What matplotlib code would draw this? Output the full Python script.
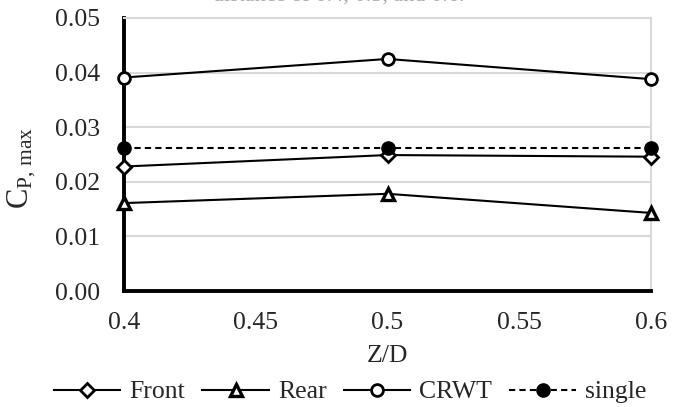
import matplotlib
matplotlib.use("Agg")
import matplotlib.pyplot as plt

zd = [0.4, 0.5, 0.6]
front = [0.0228, 0.0249, 0.0246]
rear = [0.0161, 0.0178, 0.0143]
crwt = [0.0391, 0.0425, 0.0388]
single = [0.02625, 0.02625, 0.02625]

plt.rcParams['font.family'] = ['Liberation Serif', 'DejaVu Serif']
plt.rcParams['mathtext.fontset'] = 'custom'
plt.rcParams['mathtext.rm'] = 'Liberation Serif'
plt.rcParams['mathtext.it'] = 'Liberation Serif:italic'

W, H = 684, 407
fig = plt.figure(figsize=(6.84, 4.07), dpi=100)
ax = fig.add_axes([124 / W, 1 - 291 / H, (651 - 124) / W, (291 - 18) / H])

lw = 1.5
ax.plot(zd, front, color='black', lw=lw, marker='D', ms=7.5, mfc='white', mew=2.0, label='Front', clip_on=False, zorder=3)
ax.plot(zd, rear, color='black', lw=lw, marker='^', ms=9, mfc='white', mew=2.4, label='Rear', clip_on=False, zorder=3)
ax.plot(zd, crwt, color='black', lw=lw, marker='o', ms=8.5, mfc='white', mew=2.0, label='CRWT', clip_on=False, zorder=3)
ax.plot(zd, single, color='black', lw=lw, ls=(0, (3, 2)), marker='o', ms=9.5, mfc='black', label='single', clip_on=False, zorder=3)

ax.set_xlim(0.4, 0.6)
ax.set_ylim(0, 0.05)
ax.set_xticks([0.4, 0.45, 0.5, 0.55, 0.6])
ax.set_xticklabels(['0.4', '0.45', '0.5', '0.55', '0.6'])
ax.set_yticks([0, 0.01, 0.02, 0.03, 0.04, 0.05])
ax.set_yticklabels(['0.00', '0.01', '0.02', '0.03', '0.04', '0.05'])
ax.tick_params(axis='y', length=0, labelsize=18.5, colors='#262626', pad=17)
ax.tick_params(axis='x', length=0, labelsize=18.5, colors='#262626', pad=15)
ax.grid(axis='y', color='#d9d9d9', lw=1.5, zorder=0)
ax.set_axisbelow(True)
for s in ['top', 'right']:
    ax.spines[s].set_color('#d9d9d9')
    ax.spines[s].set_linewidth(1.5)
for s in ['left', 'bottom']:
    ax.spines[s].set_color('black')
    ax.spines[s].set_linewidth(2.8)
    ax.spines[s].set_zorder(2.5)

ax.set_xlabel('Z/D', fontsize=18.5, color='#262626', labelpad=8)
ax.set_ylabel(r'$\mathrm{C_{P,\,max}}$', fontsize=22, color='#262626')
ax.yaxis.set_label_coords((38 - 124) / 527, 0.45)

leg = fig.legend(loc='center', bbox_to_anchor=(350 / W, 1 - 392 / H), ncol=4, frameon=False,
                 fontsize=18.5, handlelength=2.6, handletextpad=0.35, columnspacing=0.66,
                 borderaxespad=0, borderpad=0, labelcolor='#262626')

fig.text(339 / W, 1 - 1.5 / H, 'distance of 0.4, 0.5, and 0.6.', ha='center', va='baseline',
         fontsize=16, color='#aaaaaa')

fig.savefig('out.png', dpi=100)
